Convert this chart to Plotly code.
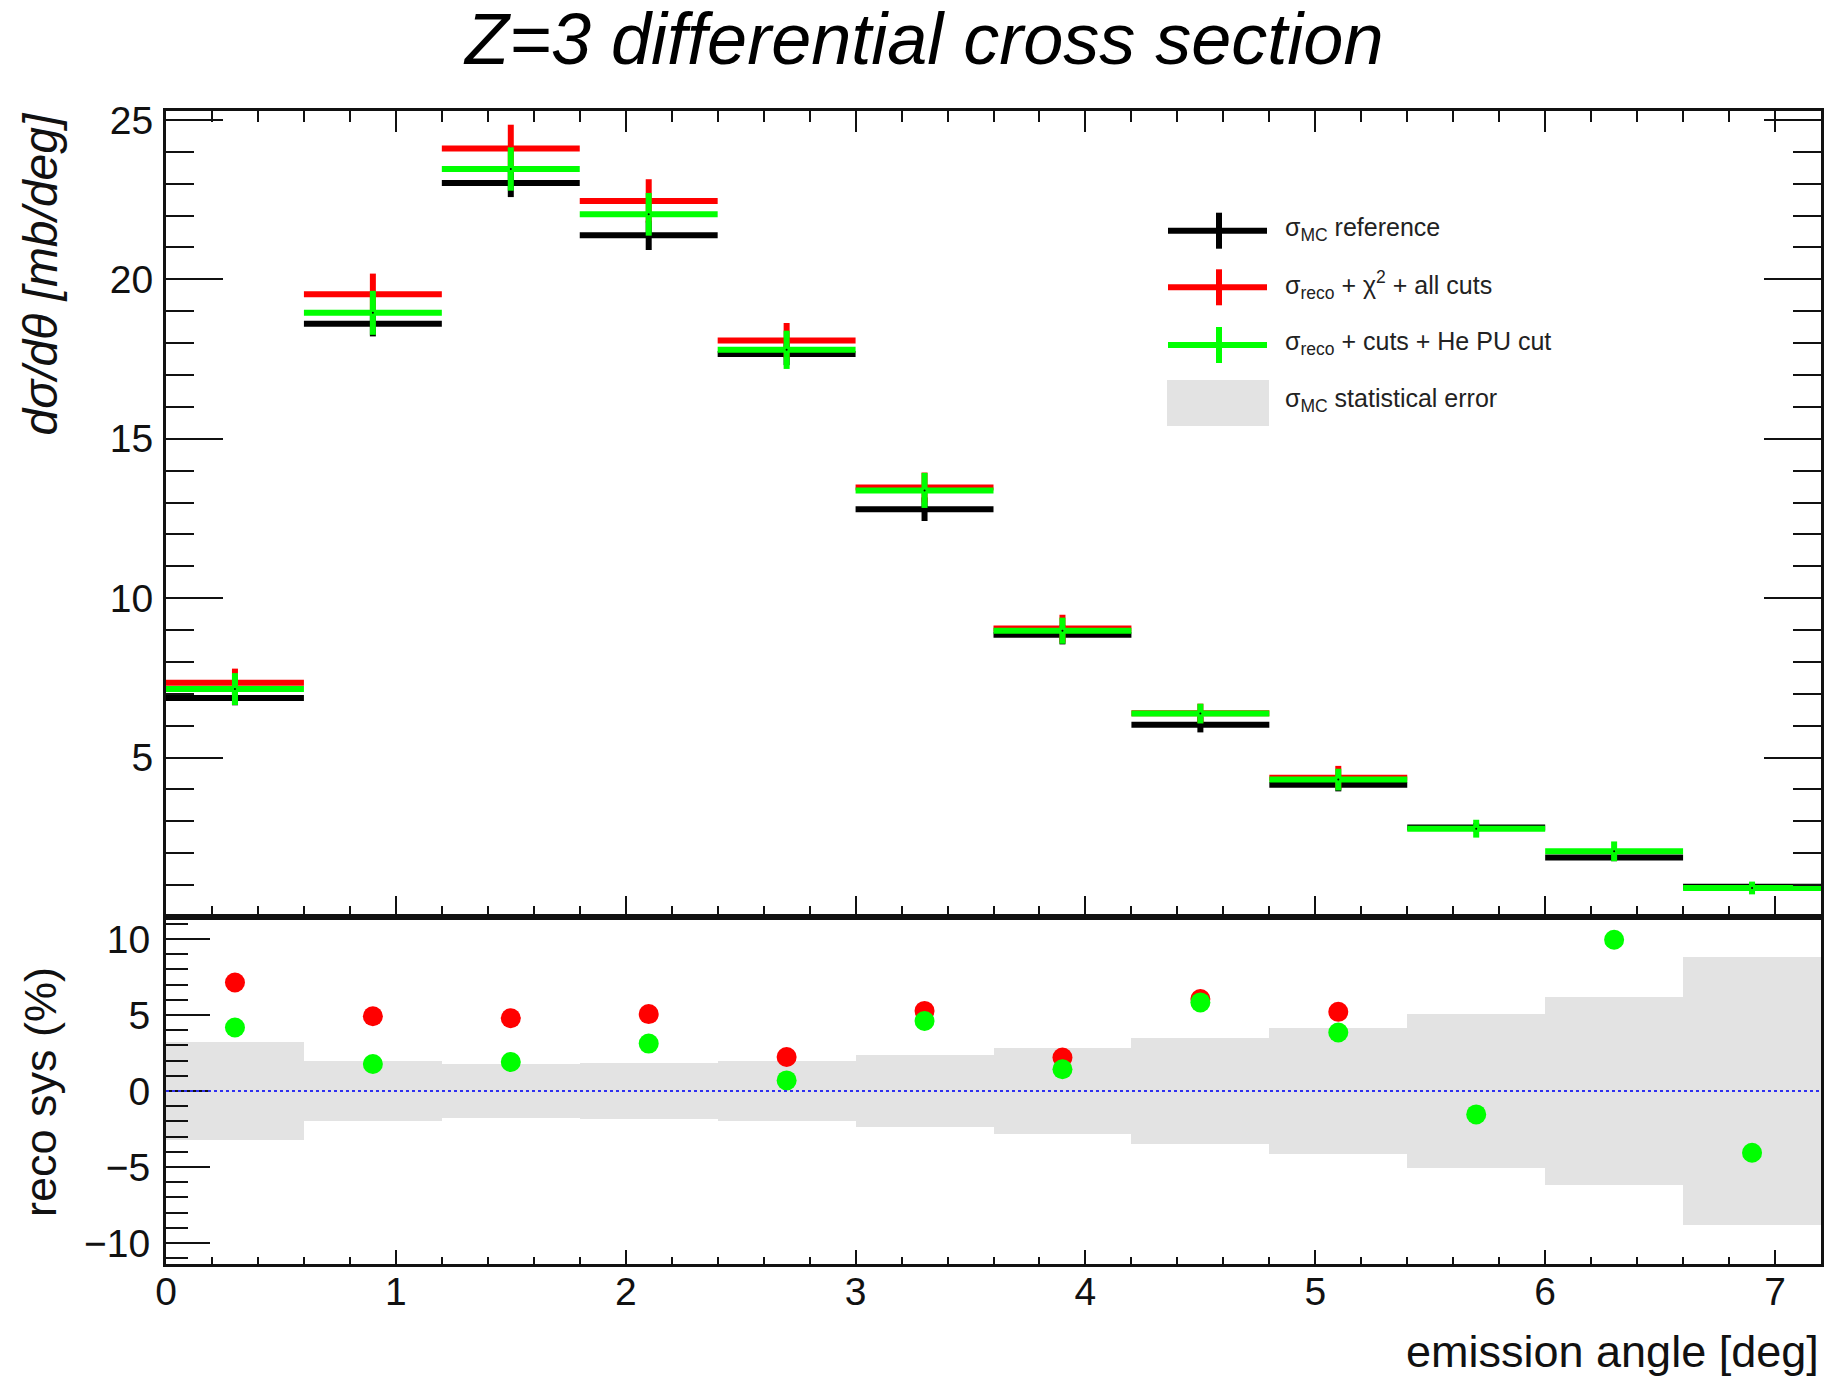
import plotly.graph_objects as go

W, H = 1834, 1382
FONT = "Liberation Sans"

# 12 angular bins of 0.6 deg between 0 and 7.2 deg
bin_centers = [0.3, 0.9, 1.5, 2.1, 2.7, 3.3, 3.9, 4.5, 5.1, 5.7, 6.3, 6.9]
bin_half_width = 0.3
bin_width = 0.6

# dsigma/dtheta [mb/deg]
sigma_mc = [6.87, 18.61, 23.02, 21.38, 17.66, 12.79, 8.85, 6.03, 4.15, 2.81, 1.87, 0.95]
sigma_mc_err = [0.23, 0.40, 0.44, 0.46, 0.35, 0.37, 0.30, 0.24, 0.21, 0.14, 0.12, 0.08]
sigma_reco_chi2 = [7.35, 19.53, 24.10, 22.46, 18.08, 13.47, 9.05, 6.39, 4.37, None, None, None]
sigma_reco_chi2_err = [0.44, 0.65, 0.75, 0.68, 0.55, 0.47, 0.43, 0.30, 0.37, None, None, None]
sigma_reco_pu = [7.15, 18.95, 23.46, 22.04, 17.79, 13.38, 8.98, 6.38, 4.31, 2.77, 2.06, 0.91]
sigma_reco_pu_err = [0.50, 0.69, 0.68, 0.67, 0.60, 0.55, 0.41, 0.31, 0.34, 0.28, 0.31, 0.20]

# reco systematics relative to the MC reference [%]
sys_chi2 = [7.14, 4.92, 4.79, 5.06, 2.24, 5.27, 2.20, 6.05, 5.21, None, None, None]
sys_pu = [4.18, 1.78, 1.91, 3.12, 0.70, 4.61, 1.43, 5.83, 3.85, -1.54, 9.95, -4.06]
mc_stat_err_pct = [3.25, 1.98, 1.78, 1.83, 1.99, 2.38, 2.84, 3.50, 4.17, 5.05, 6.20, 8.80]

BLACK, RED, GREEN, GREY = "#000000", "#ff0000", "#00ff00", "#e3e3e3"


def px(x):
    return x / W


def py(y):
    return 1 - y / H


fig = go.Figure()


def cross_trace(y, yerr, color):
    return go.Scatter(
        x=bin_centers, y=y, mode="markers",
        marker=dict(size=2, color="black"),
        error_x=dict(type="constant", value=bin_half_width, thickness=6, width=0, color=color),
        error_y=dict(type="data", array=yerr, thickness=6, width=0, color=color),
        xaxis="x", yaxis="y", showlegend=False, hoverinfo="skip",
    )


fig.add_trace(cross_trace(sigma_mc, sigma_mc_err, BLACK))
fig.add_trace(cross_trace(sigma_reco_chi2, sigma_reco_chi2_err, RED))
fig.add_trace(cross_trace(sigma_reco_pu, sigma_reco_pu_err, GREEN))

# statistical band of the MC reference in the ratio panel
fig.add_trace(go.Bar(
    x=bin_centers, y=[2 * e for e in mc_stat_err_pct], base=[-e for e in mc_stat_err_pct],
    width=bin_width, marker=dict(color=GREY, line=dict(width=0)),
    xaxis="x2", yaxis="y2", showlegend=False, hoverinfo="skip",
))
fig.add_trace(go.Scatter(
    x=bin_centers, y=sys_chi2, mode="markers", marker=dict(size=20, color=RED),
    xaxis="x2", yaxis="y2", showlegend=False, hoverinfo="skip",
))
fig.add_trace(go.Scatter(
    x=bin_centers, y=sys_pu, mode="markers", marker=dict(size=20, color=GREEN),
    xaxis="x2", yaxis="y2", showlegend=False, hoverinfo="skip",
))

x_dom = [px(166), px(1821)]
top_dom = [py(917), py(111)]
low_dom = [py(1264), py(917)]

axis_common = dict(
    showline=True, linecolor="#111", linewidth=3, showgrid=False, zeroline=False,
    ticks="inside", tickcolor="#111", tickwidth=2, automargin=False,
    tickfont=dict(family=FONT, size=39, color="#111"),
)

fig.update_layout(
    template="none",
    width=W, height=H, margin=dict(l=0, r=0, t=0, b=0, autoexpand=False),
    paper_bgcolor="white", plot_bgcolor="white",
    bargap=0,
    xaxis=dict(
        axis_common, domain=x_dom, range=[0, 7.2], anchor="y",
        tickvals=list(range(0, 8)), ticklen=21, showticklabels=False,
        minor=dict(tickvals=[i * 0.2 for i in range(37)], ticklen=11, tickcolor="#111", tickwidth=2, ticks="inside"),
        mirror="ticks",
    ),
    yaxis=dict(
        axis_common, domain=top_dom, range=[0, 25.28], anchor="x",
        tickvals=[5, 10, 15, 20, 25], ticklen=57, ticklabelstandoff=2,
        minor=dict(tickvals=list(range(0, 26)), ticklen=28, tickcolor="#111", tickwidth=2, ticks="inside"),
        mirror="ticks",
    ),
    xaxis2=dict(
        axis_common, domain=x_dom, range=[0, 7.2], anchor="y2",
        tickvals=list(range(0, 8)), ticklen=14, ticklabelstandoff=-9,
        minor=dict(tickvals=[i * 0.2 for i in range(37)], ticklen=7, tickcolor="#111", tickwidth=2, ticks="inside"),
        mirror=True,
    ),
    yaxis2=dict(
        axis_common, domain=low_dom, range=[-11.38, 11.45], anchor="x2",
        tickvals=[-10, -5, 0, 5, 10], ticklen=44, ticklabelstandoff=5,
        minor=dict(tickvals=list(range(-11, 12)), ticklen=22, tickcolor="#111", tickwidth=2, ticks="inside"),
        mirror=True,
    ),
)

# zero reference line of the ratio panel
fig.add_shape(type="line", xref="x2 domain", yref="y2", x0=0, x1=1, y0=0, y1=0,
              line=dict(color="#3030f0", width=2, dash="dot"))

# hand-drawn legend
legend_rows = [
    (230.7, BLACK, "σ<sub>MC</sub> reference"),
    (287.3, RED, "σ<sub>reco</sub> + χ<sup>2</sup> + all cuts"),
    (345.0, GREEN, "σ<sub>reco</sub> + cuts + He PU cut"),
]
for yrow, color, label in legend_rows:
    fig.add_shape(type="line", xref="paper", yref="paper", x0=px(1168), x1=px(1267),
                  y0=py(yrow), y1=py(yrow), line=dict(color=color, width=6))
    fig.add_shape(type="line", xref="paper", yref="paper", x0=px(1219), x1=px(1219),
                  y0=py(yrow - 18), y1=py(yrow + 18), line=dict(color=color, width=6))
    fig.add_annotation(x=px(1283), y=py(yrow - 2), xref="paper", yref="paper",
                       xanchor="left", yanchor="middle", showarrow=False, text=label,
                       font=dict(family=FONT, size=25, color="#222"))
fig.add_shape(type="rect", xref="paper", yref="paper", x0=px(1167), x1=px(1269),
              y0=py(426), y1=py(380), fillcolor=GREY, line=dict(width=0))
fig.add_annotation(x=px(1283), y=py(400), xref="paper", yref="paper",
                   xanchor="left", yanchor="middle", showarrow=False,
                   text="σ<sub>MC</sub> statistical error",
                   font=dict(family=FONT, size=25, color="#222"))

# titles
fig.add_annotation(x=px(923), y=py(39), xref="paper", yref="paper", showarrow=False,
                   xanchor="center", yanchor="middle",
                   text="<i>Z=3 differential cross section</i>",
                   font=dict(family=FONT, size=72, color="black"))
fig.add_annotation(x=px(40), y=py(111), xref="paper", yref="paper", showarrow=False,
                   xanchor="center", yanchor="top", textangle=-90,
                   text="<i>dσ/dθ [mb/deg]</i>",
                   font=dict(family=FONT, size=48, color="#111"))
fig.add_annotation(x=px(40), y=py(1092), xref="paper", yref="paper", showarrow=False,
                   xanchor="center", yanchor="middle", textangle=-90,
                   text="reco sys (%)",
                   font=dict(family=FONT, size=45, color="#111"))
fig.add_annotation(x=px(1821), y=py(1351), xref="paper", yref="paper", showarrow=False,
                   xanchor="right", yanchor="middle",
                   text="emission angle [deg]",
                   font=dict(family=FONT, size=45, color="#111"))

fig.write_html("out.html")
